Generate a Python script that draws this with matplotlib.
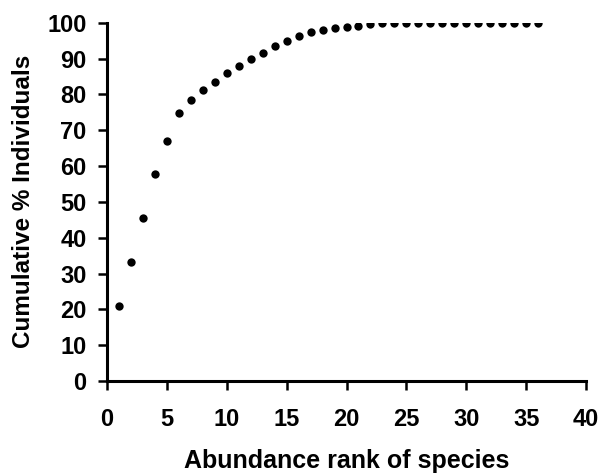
import numpy as np
import matplotlib
matplotlib.use('Agg')
from matplotlib import pyplot as plt

plt.rcParams['font.family'] = ['Liberation Sans', 'DejaVu Sans']
plt.rcParams['font.weight'] = 'bold'

# abundance rank of each species and cumulative % of individuals
rank = np.arange(1, 37)
cum_pct = [21.0, 33.1, 45.5, 57.7, 67.1, 74.7, 78.4, 81.2, 83.5, 86.0,
           87.9, 89.8, 91.5, 93.4, 94.8, 96.2, 97.4, 98.0, 98.5, 98.9,
           99.2, 99.6, 99.8, 99.9, 99.9, 99.9, 100.0, 99.9, 99.9, 99.9,
           99.9, 99.9, 99.9, 99.9, 99.9, 99.8]

x_ticks = np.arange(0, 41, 5)
y_ticks = np.arange(0, 101, 10)

fig = plt.figure(figsize=(6, 4.73), dpi=100)
ax = fig.add_axes([0.178, 0.1945, 0.799, 0.7575])

ax.plot(rank, cum_pct, 'o', color='black', markersize=6, markeredgewidth=0)

ax.set_xlim(0, 40)
ax.set_ylim(0, 100)
ax.set_xticks(x_ticks)
ax.set_yticks(y_ticks)

for side in ['top', 'right']:
    ax.spines[side].set_visible(False)
for side in ['left', 'bottom']:
    ax.spines[side].set_linewidth(2.2)

ax.tick_params(direction='out', length=6.5, width=1.8, labelsize=17)
ax.tick_params(axis='x', pad=13)
ax.tick_params(axis='y', pad=8)
for lab in ax.get_xticklabels() + ax.get_yticklabels():
    lab.set_fontweight('bold')

ax.set_xlabel('Abundance rank of species', fontsize=18, fontweight='bold', labelpad=13)
ax.set_ylabel('Cumulative % Individuals', fontsize=17.5, fontweight='bold', labelpad=9)

fig.savefig('out.png', dpi=100)
